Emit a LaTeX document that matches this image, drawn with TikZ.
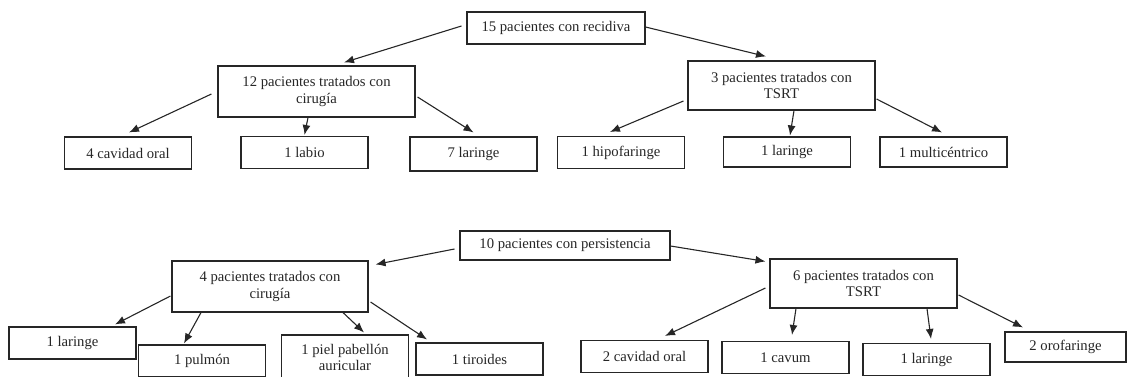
\documentclass[tikz,border=0pt]{standalone}
\usepackage{fontspec}
\setmainfont{Liberation Serif}
\usetikzlibrary{arrows.meta}
\tikzset{
    group/.style = {draw, rectangle, line width=1.1pt, align=center,
        inner sep=2pt},
    site/.style = {draw, rectangle, line width=1.1pt, align=center,
        inner sep=2pt,
        minimum width=127pt,
        minimum height=32pt},
    flow/.style = {draw, line width=1.1pt, -{Latex[length=10pt,width=8pt]}}
}

\begin{document}
\begin{tikzpicture}[x=1pt,y=-1pt,font=\fontsize{14.7}{16.5}\selectfont,color=black!85]
            \useasboundingbox (0,0) rectangle (1127,376);
            \clip (0,0) rectangle (1127,376);
            \node[group, minimum width=178pt, minimum height=32pt] (rec) at (556,28) {15 pacientes con recidiva};
            \node[group, minimum width=197pt, minimum height=51pt] (cir1) at (316.5,91.5) {12 pacientes tratados con\\cirugía};
            \node[group, minimum width=187pt, minimum height=49pt] (tsrt1) at (781.5,85.5) {3 pacientes tratados con\\TSRT};
            \node[site] (oral1) at (128,153) {4 cavidad oral};
            \node[site] (labio) at (304.5,152.5) {1 labio};
            \node[site, minimum height=34pt] (lar1) at (473.5,154) {7 laringe};
            \node[site] (hipo) at (621,152.5) {1 hipofaringe};
            \node[site, minimum height=30pt] (lar2) at (787,152) {1 laringe};
            \node[site, minimum height=30pt] (multi) at (943.5,152) {1 multicéntrico};
            \draw[flow] ([xshift=-5pt,yshift=2pt]rec.west) -- ([xshift=27.5pt,yshift=3pt]cir1.north);
            \draw[flow] ([yshift=1pt]rec.east) -- ([xshift=-15.5pt,yshift=4pt]tsrt1.north);
            \draw[flow] ([xshift=-6pt,yshift=-2.5pt]cir1.west) -- ([xshift=1pt,yshift=4pt]oral1.north);
            \draw[flow] ([xshift=-8.5pt]cir1.south) -- ([yshift=1pt]labio.north);
            \draw[flow] ([xshift=2pt,yshift=-5.5pt]cir1.east) -- ([yshift=4pt]lar1.north);
            \draw[flow] ([xshift=-4pt,yshift=-15.5pt]tsrt1.west) -- ([xshift=-11pt,yshift=4pt]hipo.north);
            \draw[flow] ([xshift=12.5pt]tsrt1.south) -- ([xshift=3pt,yshift=1pt]lar2.north);
            \draw[flow] ([xshift=1pt,yshift=-13.5pt]tsrt1.east) -- ([xshift=-1.5pt,yshift=4pt]multi.north);
            \node[group, minimum width=210pt, minimum height=29pt] (per) at (565,245.5) {10 pacientes con persistencia};
            \node[group, minimum width=196pt, minimum height=51pt] (cir2) at (270,286.5) {4 pacientes tratados con\\cirugía};
            \node[group, minimum width=187pt, minimum height=49pt] (tsrt2) at (863.5,283.5) {6 pacientes tratados con\\TSRT};
            \node[site] (lar3) at (72.5,343) {1 laringe};
            \node[site] (pulmon) at (202,361) {1 pulmón};
            \node[site, minimum height=45pt] (piel) at (345,357.5) {1 piel pabellón\\auricular};
            \node[site] (tiro) at (479.5,359) {1 tiroides};
            \node[site] (oral2) at (644.5,356.5) {2 cavidad oral};
            \node[site] (cavum) at (785.5,357.5) {1 cavum};
            \node[site] (lar4) at (926.5,359.5) {1 laringe};
            \node[site, minimum width=121pt, minimum height=30pt] (oro) at (1065.5,347) {2 orofaringe};
            \draw[flow] ([xshift=-5pt,yshift=-3.5pt]per.west) -- ([xshift=7pt,yshift=-4pt]cir2.north east);
            \draw[flow] ([yshift=-0.5pt]per.east) -- ([xshift=-4pt,yshift=-3pt]tsrt2.north west);
            \draw[flow] ([xshift=-1pt,yshift=-9.5pt]cir2.west) -- ([xshift=42.5pt,yshift=2pt]lar3.north);
            \draw[flow] ([xshift=-69pt]cir2.south) -- ([xshift=-18pt,yshift=1pt]pulmon.north);
            \draw[flow] ([xshift=73pt]cir2.south) -- ([xshift=19pt,yshift=2pt]piel.north);
            \draw[flow] ([xshift=2pt,yshift=-15.5pt]cir2.east) -- ([xshift=-52.5pt,yshift=3pt]tiro.north);
            \draw[flow] ([xshift=-4pt,yshift=-4.5pt]tsrt2.west) -- ([xshift=20.5pt,yshift=4pt]oral2.north);
            \draw[flow] ([xshift=-67.5pt]tsrt2.south) -- ([xshift=6.5pt,yshift=6pt]cavum.north);
            \draw[flow] ([xshift=63.5pt]tsrt2.south) -- ([xshift=4.5pt,yshift=4pt]lar4.north);
            \draw[flow] ([xshift=1pt,yshift=-11.5pt]tsrt2.east) -- ([xshift=-42.5pt,yshift=4pt]oro.north);
\end{tikzpicture}
\end{document}
